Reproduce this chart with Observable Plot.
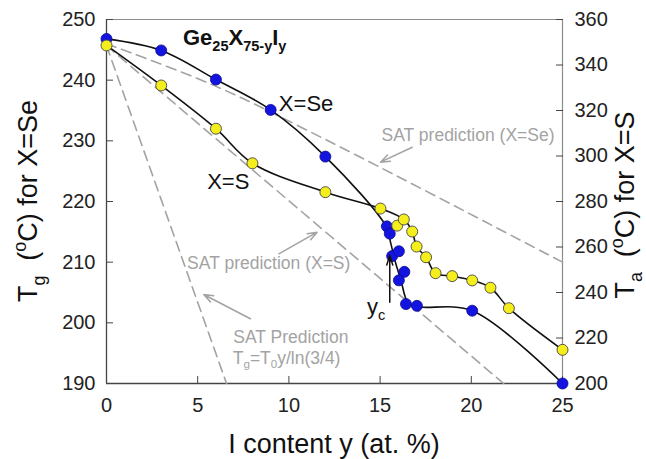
<!DOCTYPE html>
<html><head><meta charset="utf-8">
<script src="https://cdn.jsdelivr.net/npm/d3@7"></script>
<script src="https://cdn.jsdelivr.net/npm/@observablehq/plot@0.6"></script>
<style>html,body{margin:0;padding:0;background:#fff;} svg{display:block}</style>
</head><body><div id="chart"></div>
<script>
// ---- data ----
// I content y (at.%) and Tg (°C) for X=Se, left axis
const seY = [0, 3, 6, 9, 12, 15.37, 15.53, 15.66, 16.03, 16.33, 16.03, 16.42, 17.02, 20.05, 25];
const seT = [246.8, 244.9, 240.1, 235.1, 227.4, 215.9, 214.7, 211.0, 211.8, 208.4, 207.0, 203.1, 202.8, 202.0, 190.0];
// guide curve through the Se data
const seFitY = [0, 3, 6, 9, 12, 15.35, 15.57, 15.84, 16.12, 16.57, 17.2, 20.05, 25];
const seFitT = [246.8, 244.9, 240.1, 235.1, 227.4, 215.8, 213.3, 210.0, 207.3, 203.1, 202.6, 202.0, 190.0];
// I content y and T (°C) for X=S, right axis
const sY = [0, 3, 6, 8, 12, 15.02, 15.94, 16.3, 16.76, 17.0, 17.52, 18.04, 18.95, 20.05, 21.05, 22.06, 25];
const sT = [348.6, 331.0, 312.0, 296.8, 284.1, 276.9, 269.4, 272.1, 266.8, 260.2, 255.5, 248.5, 247.2, 245.3, 242.1, 233.1, 214.8];
const sFitY = [0, 3, 6, 8, 12, 15.02, 16.3, 16.76, 17.0, 17.52, 18.04, 18.95, 20.05, 21.05, 22.06, 25];
const sFitT = [348.6, 331.0, 312.0, 296.8, 284.1, 276.9, 272.1, 266.8, 260.2, 255.5, 248.5, 247.2, 245.3, 242.1, 233.1, 214.8];
// SAT predictions (left-axis units)
const satSeY = [0, 5.92, 12.28, 25];
const satSeT = [246.0, 239.1, 229.8, 210.0];
const satSY = [0, 21.77];
const satST = [245.7, 190];
const satPY = [0, 6.58];
const satPT = [245.7, 190];
// ticks
const xTicks = [0, 5, 10, 15, 20, 25];
const leftTicks = [190, 200, 210, 220, 230, 240, 250];
const rightTicks = [200, 220, 240, 260, 280, 300, 320, 340, 360];
// annotations
const noteText = ["SAT prediction (X=Se)", "SAT prediction (X=S)", "SAT Prediction"];
const noteX = [15.08, 4.42, 6.95];
const noteT = [229.97, 208.8, 196.6];
const seriesLabel = ["X=Se", "X=S"];
const seriesLabelX = [9.45, 5.52];
const seriesLabelT = [234.89, 222.1];
const arrowX1 = [16.76, 9.45, 7.89];
const arrowT1 = [228.95, 211.38, 200.67];
const arrowX2 = [15.02, 11.55, 5.33];
const arrowT2 = [226.48, 214.94, 204.67];
const ycX = 15.53, ycT1 = 203.4, ycT2 = 211.1;

// ---- build ----
const FONT = "'Liberation Sans', Arial, Helvetica, sans-serif";
const toL = r => 190 + (r - 200) * 60 / 160;
const toR = l => 200 + (l - 190) * 160 / 60;
const zip = (xs, ts, f = v => v) => xs.map((x, i) => ({x, t: f(ts[i])}));

const se = zip(seY, seT), seFit = zip(seFitY, seFitT);
const s = zip(sY, sT, toL), sFit = zip(sFitY, sFitT, toL);
const satSe = zip(satSeY, satSeT), satS = zip(satSY, satST), satP = zip(satPY, satPT);
const notes = noteText.map((text, i) => ({text, x: noteX[i], t: noteT[i]}));
const labels = seriesLabel.map((text, i) => ({text, x: seriesLabelX[i], t: seriesLabelT[i]}));
const arrows = arrowX1.map((x1, i) => ({x1, y1: arrowT1[i], x2: arrowX2[i], y2: arrowT2[i]}));

const GRAY = "#a3a3a3";
const plot = Plot.plot({
  width: 646, height: 459,
  marginLeft: 106, marginRight: 84, marginTop: 19, marginBottom: 76,
  style: {fontFamily: FONT, fontSize: "20px", color: "#222", background: "#fff", overflow: "visible"},
  x: {domain: [0, 25]},
  y: {domain: [190, 250]},
  marks: [
    Plot.ruleY([250], {stroke: "#8c8c8c", strokeWidth: 1.2}),
    Plot.ruleX([25], {stroke: "#8c8c8c", strokeWidth: 1.2}),
    Plot.ruleX([0], {stroke: "#444", strokeWidth: 1.3}),
    Plot.ruleY([190], {stroke: "#444", strokeWidth: 1.3}),
    Plot.axisX({ticks: xTicks, tickSize: -7, tickPadding: 21, label: null, fontSize: 20, stroke: "#444"}),
    Plot.axisY({anchor: "left", ticks: leftTicks, tickSize: -7, tickPadding: 18, label: null, fontSize: 20, stroke: "#444"}),
    Plot.axisY(rightTicks.map(toL), {anchor: "right", tickSize: -7, tickPadding: 19, label: null, fontSize: 20, stroke: "#444",
      tickFormat: d => String(Math.round(toR(d)))}),
    Plot.line(satSe, {x: "x", y: "t", curve: "catmull-rom", stroke: GRAY, strokeWidth: 1.6, strokeDasharray: "10,6"}),
    Plot.line(satS, {x: "x", y: "t", stroke: GRAY, strokeWidth: 1.6, strokeDasharray: "10,6"}),
    Plot.line(satP, {x: "x", y: "t", stroke: GRAY, strokeWidth: 1.6, strokeDasharray: "10,6"}),
    Plot.line(seFit, {x: "x", y: "t", curve: "catmull-rom", stroke: "#111", strokeWidth: 1.6}),
    Plot.line(sFit, {x: "x", y: "t", curve: "catmull-rom", stroke: "#111", strokeWidth: 1.6}),
    Plot.dot(se, {x: "x", y: "t", r: 5.5, fill: "#1414e0", stroke: "#0a0a8a", strokeWidth: 0.8}),
    Plot.dot(s, {x: "x", y: "t", r: 5.5, fill: "#f4ee1c", stroke: "#444", strokeWidth: 0.9}),
    Plot.arrow(arrows, {x1: "x1", y1: "y1", x2: "x2", y2: "y2", stroke: GRAY, strokeWidth: 1.5, headLength: 10, headAngle: 40}),
    Plot.arrow([{x: ycX, y1: ycT1, y2: ycT2}], {x1: "x", x2: "x", y1: "y1", y2: "y2", stroke: "#111", strokeWidth: 1.5, headLength: 10, headAngle: 35}),
    Plot.text(notes, {x: "x", y: "t", text: "text", textAnchor: "start", lineAnchor: "bottom", fontSize: 17.5, fill: GRAY}),
    Plot.text(labels, {x: "x", y: "t", text: "text", textAnchor: "start", lineAnchor: "bottom", fontSize: 22, fill: "#111"})
  ]
});
document.getElementById("chart").appendChild(plot);

// ---- rich text (sub/superscripts) ----
const X = plot.scale("x"), Y = plot.scale("y");
const svg = d3.select(plot);
function rich(t, parts, base) {
  let shift = 0;
  for (const p of parts) {
    const sp = t.append("tspan").text(p.s);
    const target = p.sub ? base * 0.28 : p.sup ? -base * 0.4 : 0;
    if (target !== shift) { sp.attr("dy", target - shift); shift = target; }
    if (p.sub || p.sup) sp.attr("font-size", p.size || base * 0.66);
  }
  return t;
}
// title
rich(svg.append("text").attr("x", X.apply(4.22)).attr("y", Y.apply(245.7)).attr("text-anchor", "start")
  .attr("font-size", 22).attr("font-weight", "bold").attr("fill", "#111"),
  [{s: "Ge"}, {s: "25", sub: true}, {s: "X"}, {s: "75-y", sub: true}, {s: "I"}, {s: "y", sub: true}], 22);
// SAT formula
rich(svg.append("text").attr("x", X.apply(6.95)).attr("y", Y.apply(193.2)).attr("text-anchor", "start")
  .attr("font-size", 17.5).attr("fill", GRAY),
  [{s: "T"}, {s: "g", sub: true}, {s: "=T"}, {s: "0", sub: true}, {s: "y/ln(3/4)"}], 17.5);
// y_c
rich(svg.append("text").attr("x", X.apply(14.31)).attr("y", Y.apply(201.38)).attr("text-anchor", "start")
  .attr("font-size", 22).attr("fill", "#111"),
  [{s: "y"}, {s: "c", sub: true}], 22);
// axis labels
svg.append("text").attr("x", (106 + 562) / 2).attr("y", 453).attr("text-anchor", "middle")
  .attr("font-size", 27).attr("fill", "#111").text("I content y (at. %)");
rich(svg.append("text").attr("transform", "translate(37,201) rotate(-90)").attr("text-anchor", "middle")
  .attr("font-size", 27).attr("fill", "#111"),
  [{s: "T"}, {s: "g", sub: true}, {s: "\u00a0 ("}, {s: "o", sup: true}, {s: "C) for X=Se"}], 27);
rich(svg.append("text").attr("transform", "translate(634,205) rotate(-90)").attr("text-anchor", "middle")
  .attr("font-size", 27).attr("fill", "#111"),
  [{s: "T"}, {s: "a", sub: true}, {s: "\u00a0 ("}, {s: "o", sup: true}, {s: "C) for X=S"}], 27);
</script>
</body></html>
